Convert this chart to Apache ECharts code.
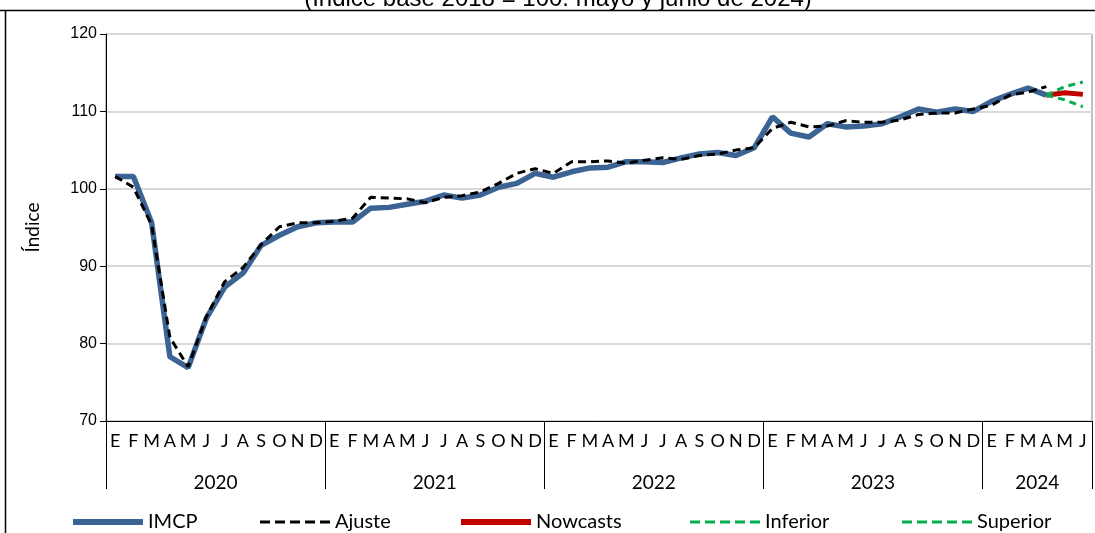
<!DOCTYPE html>
<html>
<head>
<meta charset="utf-8">
<script src="https://cdn.jsdelivr.net/npm/echarts@6/dist/echarts.min.js"></script>
<style>html,body{margin:0;padding:0;background:#fff}#c{width:1095px;height:533px}</style>
</head>
<body>
<div id="c"></div>
<script>
var months = ['E','F','M','A','M','J','J','A','S','O','N','D'];
var years = ['2020','2021','2022','2023','2024'];
var monthsPerYear = [12,12,12,12,6];
var yTicks = [70,80,90,100,110,120];

var imcp = [101.6,101.6,95.6,78.3,76.9,83.3,87.3,89.1,92.7,94.0,95.1,95.6,
  95.7,95.7,97.5,97.6,98.0,98.4,99.2,98.8,99.2,100.2,100.7,102.0,
  101.5,102.2,102.7,102.8,103.5,103.5,103.4,104.0,104.5,104.7,104.3,105.3,
  109.3,107.2,106.7,108.4,108.0,108.1,108.4,109.3,110.3,109.9,110.3,110.0,
  111.3,112.2,113.0,112.1];
var ajuste = [101.6,100.2,95.3,80.8,77.0,83.5,88.0,89.8,92.8,95.1,95.6,95.6,
  95.8,96.2,98.9,98.8,98.7,98.2,98.9,99.1,99.6,100.7,102.0,102.6,
  102.0,103.5,103.5,103.6,103.3,103.7,104.0,103.8,104.3,104.5,105.0,105.3,
  107.8,108.6,108.0,108.1,108.8,108.6,108.6,108.9,109.6,109.8,109.8,110.3,
  110.8,112.1,112.5,113.2];
var nowcasts = [112.1,112.4,112.2];
var inferior = [112.1,111.5,110.6];
var superior = [112.1,113.2,113.8];
var seriesNames = ['IMCP','Ajuste','Nowcasts','Inferior','Superior'];

// build categories
var cats = [];
years.forEach(function(y, yi){ for (var m=0;m<monthsPerYear[yi];m++) cats.push(months[m]); });
var N = cats.length;
var yearCats = []; for (var i=0;i<=N;i++) yearCats.push('');
var bounds = [0]; var acc = 0;
years.forEach(function(y, yi){
  var start = acc; acc += monthsPerYear[yi]; bounds.push(acc);
  yearCats[Math.round(start + monthsPerYear[yi]/2)] = y;
});
function pad(arr, start){ var out=[]; for (var i=0;i<N;i++){ var k=i-start; out.push(k>=0&&k<arr.length?arr[k]:null);} return out; }
var fcStart = imcp.length - 1;

var solidIcon = 'path://M0,0h70v6h-70z';
var dashIcon = 'path://M0,0h10v3h-10z M15,0h10v3h-10z M30,0h10v3h-10z M45,0h10v3h-10z M60,0h10v3h-10z';
var legendLeft = [68, 255, 456, 685, 897];
var legendIcons = [solidIcon, dashIcon, solidIcon, dashIcon, dashIcon];
var labelFont = 'Lato';
var legends = seriesNames.map(function(n, i){
  return {left:legendLeft[i], top:507, itemWidth:70, itemHeight:10, icon:legendIcons[i],
    textStyle:{fontFamily:labelFont, fontSize:20, color:'#000'}, data:[n]};
});

var chart = echarts.init(document.getElementById('c'));
chart.setOption({
  animation:false,
  graphic:[
    {type:'line', shape:{x1:0,y1:10.5,x2:1095,y2:10.5}, style:{stroke:'#000',lineWidth:1.5}},
    {type:'line', shape:{x1:5.5,y1:10,x2:5.5,y2:533}, style:{stroke:'#000',lineWidth:1.5}},
    {type:'text', x:558, y:-1, style:{text:'(Índice base 2018 = 100. mayo y junio de 2024)', fontFamily:'Liberation Sans', fontSize:24, fill:'#000', align:'center', verticalAlign:'middle'}}
  ],
  grid:{left:106, right:2, top:34, bottom:112, show:true, borderColor:'#808080', borderWidth:1},
  legend:legends,
  xAxis:[
    {type:'category', data:cats, boundaryGap:true, position:'bottom',
     axisLine:{show:true, lineStyle:{color:'#000', width:1}},
     axisTick:{show:false},
     axisLabel:{interval:0, margin:11, fontFamily:labelFont, fontSize:18, color:'#000'}},
    {type:'category', data:yearCats, boundaryGap:false, position:'bottom', gridIndex:0,
     axisLine:{show:false},
     axisTick:{show:true, length:68, lineStyle:{color:'#000', width:1},
       interval:function(idx){ return bounds.indexOf(idx) >= 0; }},
     axisLabel:{interval:0, margin:52, fontFamily:labelFont, fontSize:19, color:'#000'}}
  ],
  yAxis:{type:'value', min:70, max:120, interval:10,
    name:'Índice', nameLocation:'middle', nameGap:64, nameRotate:90,
    nameTextStyle:{fontFamily:labelFont, fontSize:19, color:'#000'},
    axisLine:{show:true, lineStyle:{color:'#000', width:1}},
    axisTick:{show:true, length:6, lineStyle:{color:'#000'}},
    axisLabel:{margin:9, fontFamily:'Liberation Sans', fontSize:16, color:'#000',
      formatter:function(v){ return yTicks.indexOf(v)>=0 ? String(v) : ''; }},
    splitLine:{lineStyle:{color:'#d9d9d9', width:2}}
  },
  series:[
    {name:'IMCP', type:'line', data:pad(imcp,0), symbol:'none',
     lineStyle:{color:'#3B6494', width:5.5}, itemStyle:{color:'#3B6494'}, z:2},
    {name:'Ajuste', type:'line', data:pad(ajuste,0), symbol:'none',
     lineStyle:{color:'#000', width:3, type:[8,5]}, itemStyle:{color:'#000'}, z:3},
    {name:'Nowcasts', type:'line', data:pad(nowcasts,fcStart), symbol:'none',
     lineStyle:{color:'#C00000', width:5}, itemStyle:{color:'#C00000'}, z:4},
    {name:'Inferior', type:'line', data:pad(inferior,fcStart), symbol:'none',
     lineStyle:{color:'#00B050', width:3, type:[7,5]}, itemStyle:{color:'#00B050'}, z:5},
    {name:'Superior', type:'line', data:pad(superior,fcStart), symbol:'none',
     lineStyle:{color:'#00B050', width:3, type:[7,5]}, itemStyle:{color:'#00B050'}, z:5}
  ]
});
</script>
</body>
</html>
